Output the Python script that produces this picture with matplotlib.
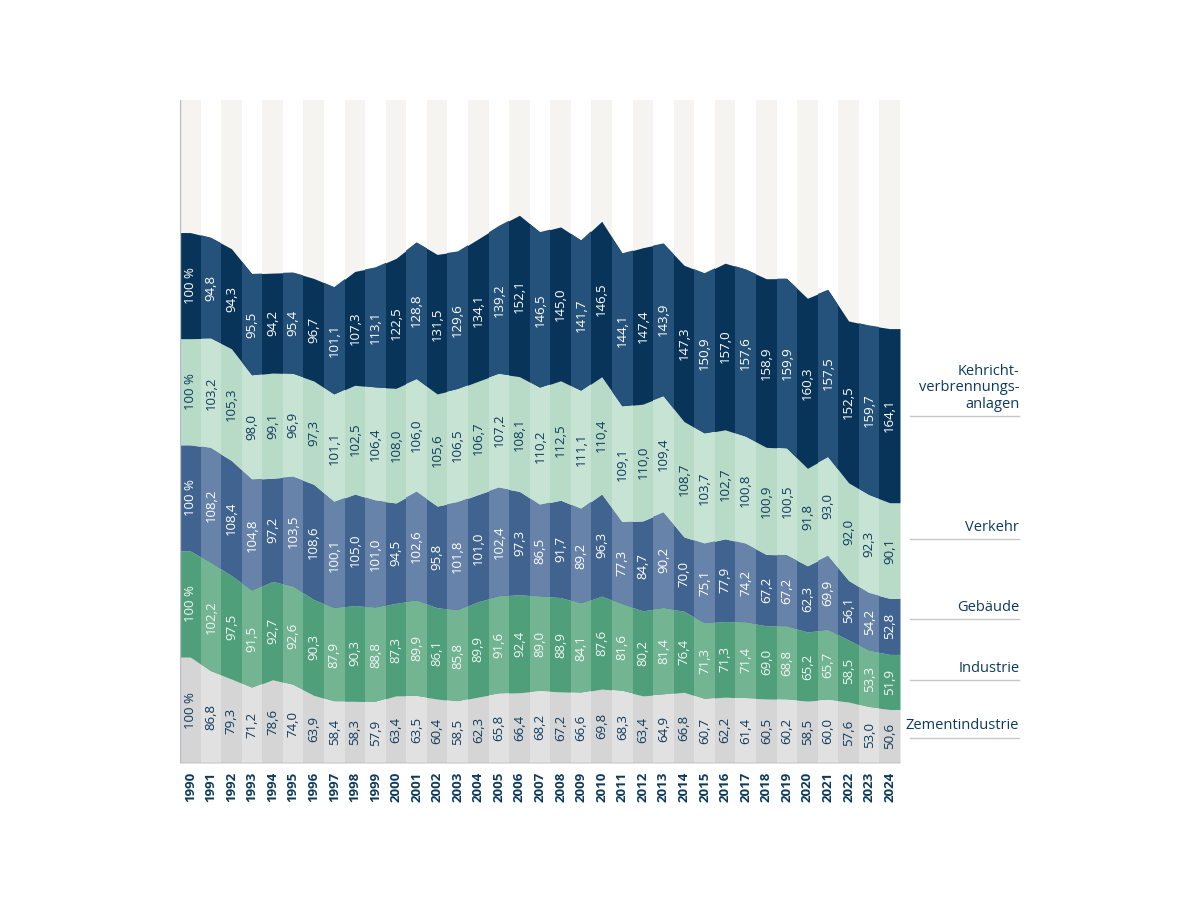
import numpy as np
import matplotlib
matplotlib.use("Agg")
import matplotlib.pyplot as plt
from matplotlib.patches import Rectangle

plt.rcParams['font.family'] = ['Open Sans', 'DejaVu Sans']

years = list(range(1990, 2025))

zement = [100, 86.8, 79.3, 71.2, 78.6, 74.0, 63.9, 58.4, 58.3, 57.9, 63.4, 63.5, 60.4, 58.5,
          62.3, 65.8, 66.4, 68.2, 67.2, 66.6, 69.8, 68.3, 63.4, 64.9, 66.8, 60.7, 62.2, 61.4,
          60.5, 60.2, 58.5, 60.0, 57.6, 53.0, 50.6]
industrie = [100, 102.2, 97.5, 91.5, 92.7, 92.6, 90.3, 87.9, 90.3, 88.8, 87.3, 89.9, 86.1, 85.8,
             89.9, 91.6, 92.4, 89.0, 88.9, 84.1, 87.6, 81.6, 80.2, 81.4, 76.4, 71.3, 71.3, 71.4,
             69.0, 68.8, 65.2, 65.7, 58.5, 53.3, 51.9]
gebaeude = [100, 108.2, 108.4, 104.8, 97.2, 103.5, 108.6, 100.1, 105.0, 101.0, 94.5, 102.6, 95.8,
            101.8, 101.0, 102.4, 97.3, 86.5, 91.7, 89.2, 96.3, 77.3, 84.7, 90.2, 70.0, 75.1, 77.9,
            74.2, 67.2, 67.2, 62.3, 69.9, 56.1, 54.2, 52.8]
verkehr = [100, 103.2, 105.3, 98.0, 99.1, 96.9, 97.3, 101.1, 102.5, 106.4, 108.0, 106.0, 105.6,
           106.5, 106.7, 107.2, 108.1, 110.2, 112.5, 111.1, 110.4, 109.1, 110.0, 109.4, 108.7,
           103.7, 102.7, 100.8, 100.9, 100.5, 91.8, 93.0, 92.0, 92.3, 90.1]
kva = [100, 94.8, 94.3, 95.5, 94.2, 95.4, 96.7, 101.1, 107.3, 113.1, 122.5, 128.8, 131.5, 129.6,
       134.1, 139.2, 152.1, 146.5, 145.0, 141.7, 146.5, 144.1, 147.4, 143.9, 147.3, 150.9, 157.0,
       157.6, 158.9, 159.9, 160.3, 157.5, 152.5, 159.7, 164.1]

series_names = ["Zementindustrie", "Industrie", "Gebäude", "Verkehr", "Kehricht-\nverbrennungs-\nanlagen"]
series = [zement, industrie, gebaeude, verkehr, kva]

dark_cols = ["#d5d5d5", "#4f9f7b", "#40648f", "#b8dbc8", "#08345a"]
light_cols = ["#e1e1e1", "#73b493", "#6783a9", "#c7e3d4", "#24527a"]
label_cols = ["#0d3a5c", "#f2f7f4", "#ffffff", "#0d3a5c", "#ffffff"]
# right label line positions (data units)
label_y = [24, 78, 136, 211, 327]

fig = plt.figure(figsize=(12, 9), dpi=100)
ax = fig.add_axes([0.15, 0.152, 0.60, 0.737])

n = len(years)
x = np.arange(n)
xe = np.r_[-0.5, x, n - 0.5]
ax.set_xlim(-0.5, n - 0.5)
ax.set_ylim(0, 625)

# background stripes
for i in range(n):
    if i % 2 == 0:
        ax.axvspan(i - 0.5, i + 0.5, color="#f5f4f1", lw=0, zorder=0)

base = np.zeros(n)
for k, vals in enumerate(series):
    v = np.array(vals, dtype=float)
    top = base + v
    lo = np.r_[base[0], base, base[-1]]
    hi = np.r_[top[0], top, top[-1]]
    poly = ax.fill_between(xe, lo, hi, color=dark_cols[k], lw=0, zorder=1)
    path = poly.get_paths()[0]
    for i in range(n):
        if i % 2 == 1:
            r = Rectangle((i - 0.5, 0), 1, 700, color=light_cols[k], lw=0, zorder=1.5)
            ax.add_patch(r)
            r.set_clip_path(path, poly.get_transform())
    # value labels
    for i in range(n):
        txt = "100 %" if i == 0 else f"{v[i]:.1f}".replace(".", ",")
        ax.text(i, base[i] + v[i] / 2, txt, rotation=90, ha="center", va="center",
                fontsize=9.5, color=label_cols[k], zorder=3)
    base = top

# axis lines
ax.axvline(-0.5, color="#b8bcc8", lw=1, zorder=4)
ax.axhline(0, color="#9a9a9a", lw=1, zorder=4)
for s in ax.spines.values():
    s.set_visible(False)
ax.set_yticks([])
ax.set_xticks(x)
ax.set_xticklabels([str(y) for y in years], rotation=90, fontsize=9.5, fontweight="bold",
                   color="#0d3a5c")
ax.tick_params(axis="x", length=0, pad=6)

# right-side labels
for k in range(len(series)):
    yv = label_y[k]
    ax.plot([n - 0.5 + 0.5, n - 0.5 + 5.8], [yv, yv], color="#c8c8c8", lw=1, clip_on=False, zorder=2)
    ax.text(n - 0.5 + 5.8, yv + 4, series_names[k], ha="right", va="bottom", fontsize=10.5,
            color="#0d3a5c", linespacing=1.15, clip_on=False)

fig.savefig("out.png", dpi=100, facecolor="white")
